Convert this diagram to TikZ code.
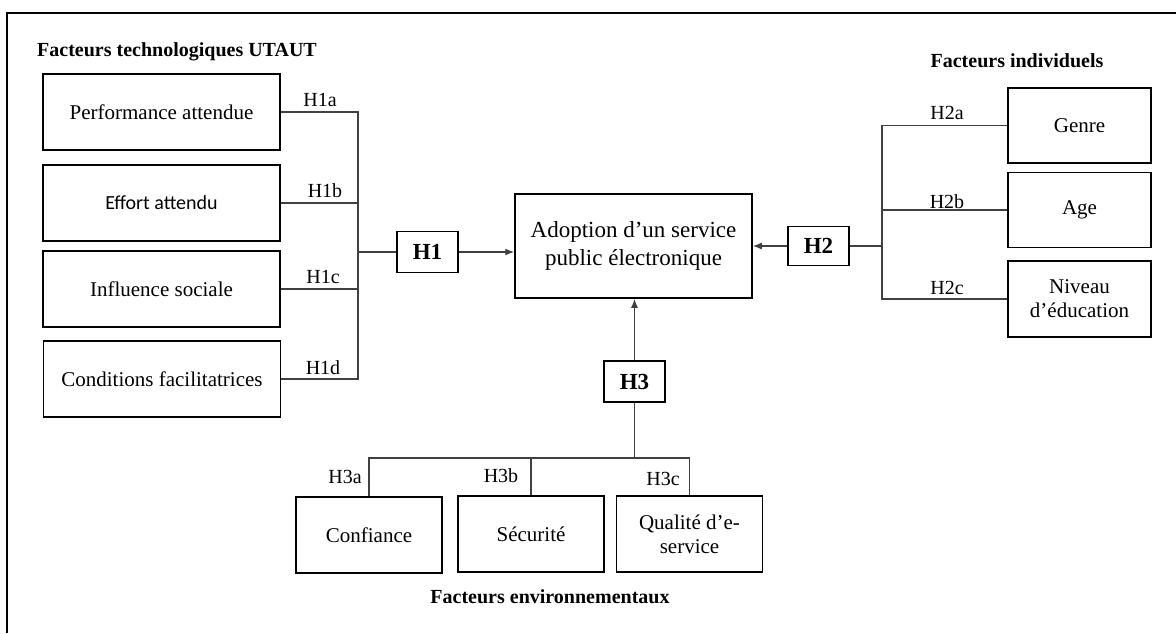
\documentclass[tikz,border=0pt]{standalone}
\usepackage{fontspec}
\setmainfont{Liberation Serif}
\newfontfamily\califont{Carlito}
\usetikzlibrary{arrows.meta}

\tikzset{
	facteur/.style={draw, line width=1.5pt, minimum width=237pt, minimum height=76pt, align=center, inner sep=0pt, font=\fontsize{21}{24}\selectfont},
	petit/.style={facteur, minimum width=146pt},
	hyp/.style={draw, line width=1.5pt, minimum width=61pt, minimum height=41pt, inner sep=0pt, font=\fontsize{23}{27}\selectfont\bfseries},
	lien/.style={line width=1.3pt, draw=black!75},
	fleche/.style={lien, -{Latex[length=9pt,width=7pt]}},
	etiq/.style={inner sep=0pt, font=\fontsize{20}{24}\selectfont},
	titre/.style={inner sep=0pt, font=\fontsize{20}{24}\selectfont\bfseries}
}

\begin{document}
\begin{tikzpicture}[x=1pt,y=-1pt]
						\useasboundingbox (0,0) rectangle (1176,633);
						\draw[line width=1.5pt] (7,633)--(7,13)--(1176,13);
						\node[titre, anchor=west] (ttech) at (37,52){Facteurs technologiques UTAUT};
						\node[titre] (tindiv) at (1017,61){Facteurs individuels};
						\node[titre] (tenv) at (550,597){Facteurs environnementaux};
						\node[facteur] (perf) at (161.5,112){Performance attendue};
						\node[facteur, font=\fontsize{20}{24}\califont] (effort) at (161.5,203){Effort attendu};
						\node[facteur] (infl) at (161.5,289){Influence sociale};
						\node[facteur] (cond) at (162,379){Conditions facilitatrices};
						\node[hyp] (h1) at (427.5,252){H1};
						\node[facteur, minimum height=104pt, font=\fontsize{23}{28}\selectfont] (adopt) at (633.5,246){Adoption d’un service\\public électronique};
						\node[hyp, minimum height=39pt] (h2) at (818.5,246){H2};
						\node[facteur, minimum width=143pt, minimum height=75pt] (genre) at (1079.5,125.5){Genre};
						\node[facteur, minimum width=143pt, minimum height=75pt] (age) at (1079.5,210){Age};
						\node[facteur, minimum width=143pt] (niveau) at (1079.5,299){Niveau\\d’éducation};
						\node[hyp] (h3) at (634.5,381.5){H3};
						\node[petit] (conf) at (369,535){Confiance};
						\node[petit] (secu) at (531,534){Sécurité};
						\node[petit] (qual) at (689.5,534){Qualité d’e-\\service};
						\coordinate (j1) at (358,252);
						\coordinate (j2) at (882,246);
						\coordinate (j3) at (634.5,458);
						\draw[lien] (perf.east)-|(j1);
						\draw[lien] (cond.east)-|(j1);
						\draw[lien] (effort.east)--(effort.east-|j1);
						\draw[lien] (infl.east)--(infl.east-|j1);
						\draw[lien] (j1)--(h1.west);
						\draw[fleche] (h1.east)--(adopt.west|-h1.east);
						\draw[lien] (genre.west)-|(j2);
						\draw[lien] (niveau.west)-|(j2);
						\draw[lien] (age.west)--(age.west-|j2);
						\draw[lien] (j2)--(h2.east);
						\draw[fleche] (h2.west)--(adopt.east|-h2.west);
						\draw[fleche] (h3.north)--(adopt.south-|h3.north);
						\draw[lien] (h3.south)--(j3);
						\draw[lien] (conf.north)|-(j3);
						\draw[lien] (secu.north)|-(j3);
						\draw[lien] (qual.north)|-(j3);
						\node[etiq] (h1a) at (320,100){H1a};
						\node[etiq] (h1b) at (325,191){H1b};
						\node[etiq] (h1c) at (323,277){H1c};
						\node[etiq] (h1d) at (323,368){H1d};
						\node[etiq] (h2a) at (947,113){H2a};
						\node[etiq] (h2b) at (947,202){H2b};
						\node[etiq] (h2c) at (947,288){H2c};
						\node[etiq] (h3a) at (345,477){H3a};
						\node[etiq] (h3b) at (501,476){H3b};
						\node[etiq] (h3c) at (663,479){H3c};
					\end{tikzpicture}
\end{document}
